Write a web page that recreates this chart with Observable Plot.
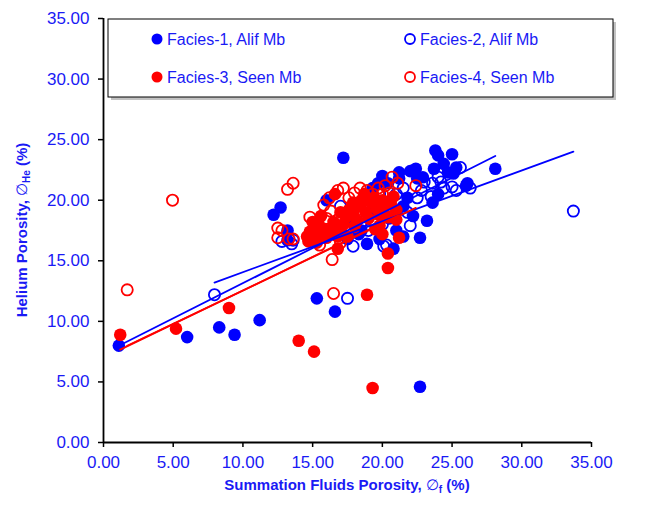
<!DOCTYPE html>
<html><head><meta charset="utf-8">
<script src="https://cdn.jsdelivr.net/npm/d3@7"></script>
<script src="https://cdn.jsdelivr.net/npm/@observablehq/plot@0.6"></script>
<style>body{margin:0;background:#fff;}#chart svg{overflow:visible}</style>
</head><body><div id="chart"></div>
<script>
const seriesNames = ["Facies-1, Alif Mb", "Facies-2, Alif Mb", "Facies-3, Seen Mb", "Facies-4, Seen Mb"];
const xTitle = "Summation Fluids Porosity, ";
const xTitleSymbol = "\u2205";
const xTitleSub = "f";
const yTitle = "Helium Porosity, ";
const yTitleSub = "He";
const axisTicks = [0, 5, 10, 15, 20, 25, 30, 35];

// Facies-1 (filled blue)
const f1x = [1.1, 6.0, 8.3, 9.4, 11.2, 15.3, 16.6, 22.7, 12.7, 12.2, 13.2, 13.2, 17.2, 18.3, 18.9, 20.8, 22.7, 22.2, 23.2, 19.3, 19.7, 20.4, 21.2, 22.0, 22.4, 22.9, 23.8, 25.0, 24.4, 24.7, 25.3, 23.7, 24.0, 23.6, 24.0, 26.1, 28.1, 16.0, 16.5, 17.8, 19.0, 19.5, 20.5, 21.5, 21.8, 18.5, 17.5, 15.5, 14.8, 19.8, 21.0, 20.0, 21.5, 25.1, 26.0, 22.5, 21.2];
const f1y = [8.0, 8.7, 9.5, 8.9, 10.1, 11.9, 10.8, 4.6, 19.4, 18.8, 17.5, 16.7, 23.5, 17.2, 16.4, 16.0, 16.9, 18.7, 18.3, 21.0, 21.4, 21.4, 21.8, 22.4, 22.6, 21.9, 24.1, 23.8, 23.0, 22.3, 22.7, 22.6, 23.7, 19.8, 20.5, 21.4, 22.6, 20.0, 17.8, 18.5, 20.0, 19.2, 18.5, 19.5, 20.2, 17.5, 16.8, 16.9, 17.2, 16.8, 17.5, 22.0, 17.0, 22.2, 21.2, 21.8, 22.3];
// Facies-2 (open blue)
const f2x = [7.96, 13.6, 13.5, 17.5, 17.9, 20.1, 20.3, 22.0, 24.0, 24.2, 24.4, 23.6, 25.6, 26.3, 33.7, 19.0, 18.5, 20.5, 21.0, 21.5, 22.5, 22.8, 23.0, 19.8, 16.5, 15.2, 14.8, 17.0, 21.8, 20.0, 23.5, 25.0, 25.3, 12.8];
const f2y = [12.2, 16.7, 16.4, 11.9, 16.2, 16.2, 16.3, 17.9, 21.9, 21.5, 21.0, 21.4, 22.7, 21.0, 19.1, 17.5, 18.2, 19.5, 20.5, 21.0, 20.2, 20.8, 21.5, 20.5, 17.2, 16.8, 17.0, 19.5, 19.0, 18.0, 20.3, 21.1, 20.8, 16.6];
// Facies-3 (filled red)
const f3x = [1.2, 5.2, 9.0, 14.0, 15.1, 19.3, 18.9, 20.4, 20.4, 16.8, 21.2, 14.6, 14.8, 15.0, 15.2, 15.0, 15.4, 15.6, 15.5, 15.8, 16.0, 16.2, 14.7, 15.3, 16.5, 16.6, 17.0, 17.2, 17.4, 17.6, 17.9, 17.9, 17.0, 16.8, 17.5, 18.0, 18.2, 18.4, 18.7, 18.5, 18.8, 19.0, 19.2, 19.4, 19.6, 19.8, 20.0, 20.2, 20.4, 20.6, 20.8, 21.0, 19.5, 20.0, 19.8, 21.0];
const f3y = [8.9, 9.4, 11.1, 8.4, 7.5, 4.5, 12.2, 15.6, 14.4, 16.0, 16.9, 17.0, 17.4, 16.8, 17.8, 18.2, 18.1, 18.7, 17.2, 17.6, 16.9, 17.5, 16.6, 16.5, 18.2, 20.5, 17.5, 18.0, 18.6, 19.2, 19.8, 18.9, 19.0, 17.0, 17.0, 17.8, 18.3, 19.5, 20.5, 20.0, 19.0, 18.5, 19.8, 20.2, 19.3, 18.8, 20.0, 19.5, 18.6, 19.8, 20.3, 19.2, 17.6, 17.2, 17.9, 18.4];
// Facies-4 (open red)
const f4x = [1.7, 4.95, 13.6, 13.2, 12.5, 12.8, 12.5, 13.3, 13.6, 16.4, 16.5, 16.3, 16.9, 17.6, 16.8, 17.2, 19.7, 20.2, 20.7, 21.1, 22.4, 15.0, 15.5, 16.0, 18.0, 18.4, 18.9, 19.3, 19.0, 20.0, 20.5, 17.5, 18.2, 15.8, 16.2, 14.8, 19.5, 20.8, 17.0];
const f4y = [12.6, 20.0, 21.4, 20.9, 17.7, 17.5, 16.9, 16.8, 16.8, 15.1, 12.3, 19.1, 17.9, 20.2, 20.8, 21.0, 21.0, 21.2, 21.9, 21.4, 21.2, 17.2, 16.3, 18.5, 20.6, 21.0, 20.8, 20.5, 19.5, 20.5, 20.6, 18.5, 19.2, 19.6, 20.2, 18.6, 18.0, 18.7, 16.5];

// Linear trendlines (slope, intercept) per series
const trendSlope = [0.58, 0.42, 0.555, 0.55];
const trendIntercept = [7.35, 9.86, 7.0, 7.05];

const seriesX = [f1x, f2x, f3x, f4x];
const seriesY = [f1y, f2y, f3y, f4y];
const pts = seriesX.map((xs, i) => xs.map((x, j) => ({x, y: seriesY[i][j], s: i})));
const trend = seriesX.flatMap((xs, i) => d3.extent(xs).map(x => ({x, y: trendSlope[i] * x + trendIntercept[i], s: i})));

const BLUE = "#0000FF", RED = "#FF0000", TXT = "#1a1aF5";
const fmt = d3.format(".2f");
const W = 648, H = 505, mL = 103, mR = 57, mT = 18, mB = 63;

const plot = Plot.plot({
  width: W, height: H, marginLeft: mL, marginRight: mR, marginTop: mT, marginBottom: mB,
  style: {fontFamily: "'Liberation Sans', Arial, sans-serif", fontSize: "17px", background: "white", overflow: "visible"},
  x: {domain: [0, 35], label: null},
  y: {domain: [0, 35], label: null},
  marks: [
    Plot.axisX({ticks: axisTicks, tickFormat: fmt, tickSize: 5, tickPadding: 8, stroke: "black", strokeWidth: 1.5, fill: TXT, label: null, fontSize: 17}),
    Plot.axisY({ticks: axisTicks, tickFormat: fmt, tickSize: 5, tickPadding: 9, stroke: "black", strokeWidth: 1.5, fill: TXT, label: null, fontSize: 17}),
    Plot.ruleX([0], {stroke: "black", strokeWidth: 1.8}),
    Plot.ruleY([0], {stroke: "black", strokeWidth: 1.8}),
    Plot.dot(pts[0], {x: "x", y: "y", r: 6.3, fill: BLUE, stroke: "none"}),
    Plot.dot(pts[1], {x: "x", y: "y", r: 5.6, fill: "none", stroke: BLUE, strokeWidth: 1.8}),
    Plot.dot(pts[2], {x: "x", y: "y", r: 6.3, fill: RED, stroke: "none"}),
    Plot.dot(pts[3], {x: "x", y: "y", r: 5.6, fill: "none", stroke: RED, strokeWidth: 1.8}),
    Plot.line(trend, {x: "x", y: "y", z: "s", stroke: d => d.s < 2 ? BLUE : RED, strokeWidth: 1.8})
  ]
});
document.getElementById("chart").appendChild(plot);

const svg = d3.select(plot);
const font = "'Liberation Sans', Arial, sans-serif";
// Axis titles
const xt = svg.append("text").attr("x", (mL + W - mR) / 2).attr("y", 490).attr("text-anchor", "middle")
  .attr("font-family", font).attr("font-size", 15).attr("font-weight", "bold").attr("fill", TXT);
xt.append("tspan").text(xTitle);
xt.append("tspan").attr("font-weight", "normal").text(xTitleSymbol);
xt.append("tspan").attr("font-size", 10).attr("dy", 3).text(xTitleSub);
xt.append("tspan").attr("dy", -3).text(" (%)");

const yt = svg.append("text").attr("transform", `translate(27,${(mT + H - mB) / 2}) rotate(-90)`).attr("text-anchor", "middle")
  .attr("font-family", font).attr("font-size", 15).attr("font-weight", "bold").attr("fill", TXT);
yt.append("tspan").text(yTitle);
yt.append("tspan").attr("font-weight", "normal").text(xTitleSymbol);
yt.append("tspan").attr("font-size", 10).attr("dy", 3).text(yTitleSub);
yt.append("tspan").attr("dy", -3).text(" (%)");

// Legend box
const lg = svg.append("g").attr("text-anchor", "start");
lg.append("rect").attr("x", 111).attr("y", 22).attr("width", 505).attr("height", 78).attr("fill", "#9a9a9a").attr("opacity", 0.6);
lg.append("rect").attr("x", 108).attr("y", 19).attr("width", 505).attr("height", 78).attr("fill", "white").attr("stroke", "black").attr("stroke-width", 1);
const legendPos = [[157, 39], [410, 39], [157, 77], [410, 77]];
seriesNames.forEach((name, i) => {
  const [cx, cy] = legendPos[i];
  const col = i < 2 ? BLUE : RED;
  const filled = i % 2 === 0;
  lg.append("circle").attr("cx", cx).attr("cy", cy).attr("r", filled ? 5.5 : 5)
    .attr("fill", filled ? col : "none").attr("stroke", filled ? "none" : col).attr("stroke-width", 1.8);
  lg.append("text").attr("x", cx + 10).attr("y", cy + 6).attr("text-anchor", "start").attr("font-family", font).attr("font-size", 16)
    .attr("fill", TXT).text(name);
});
</script>
</body></html>
